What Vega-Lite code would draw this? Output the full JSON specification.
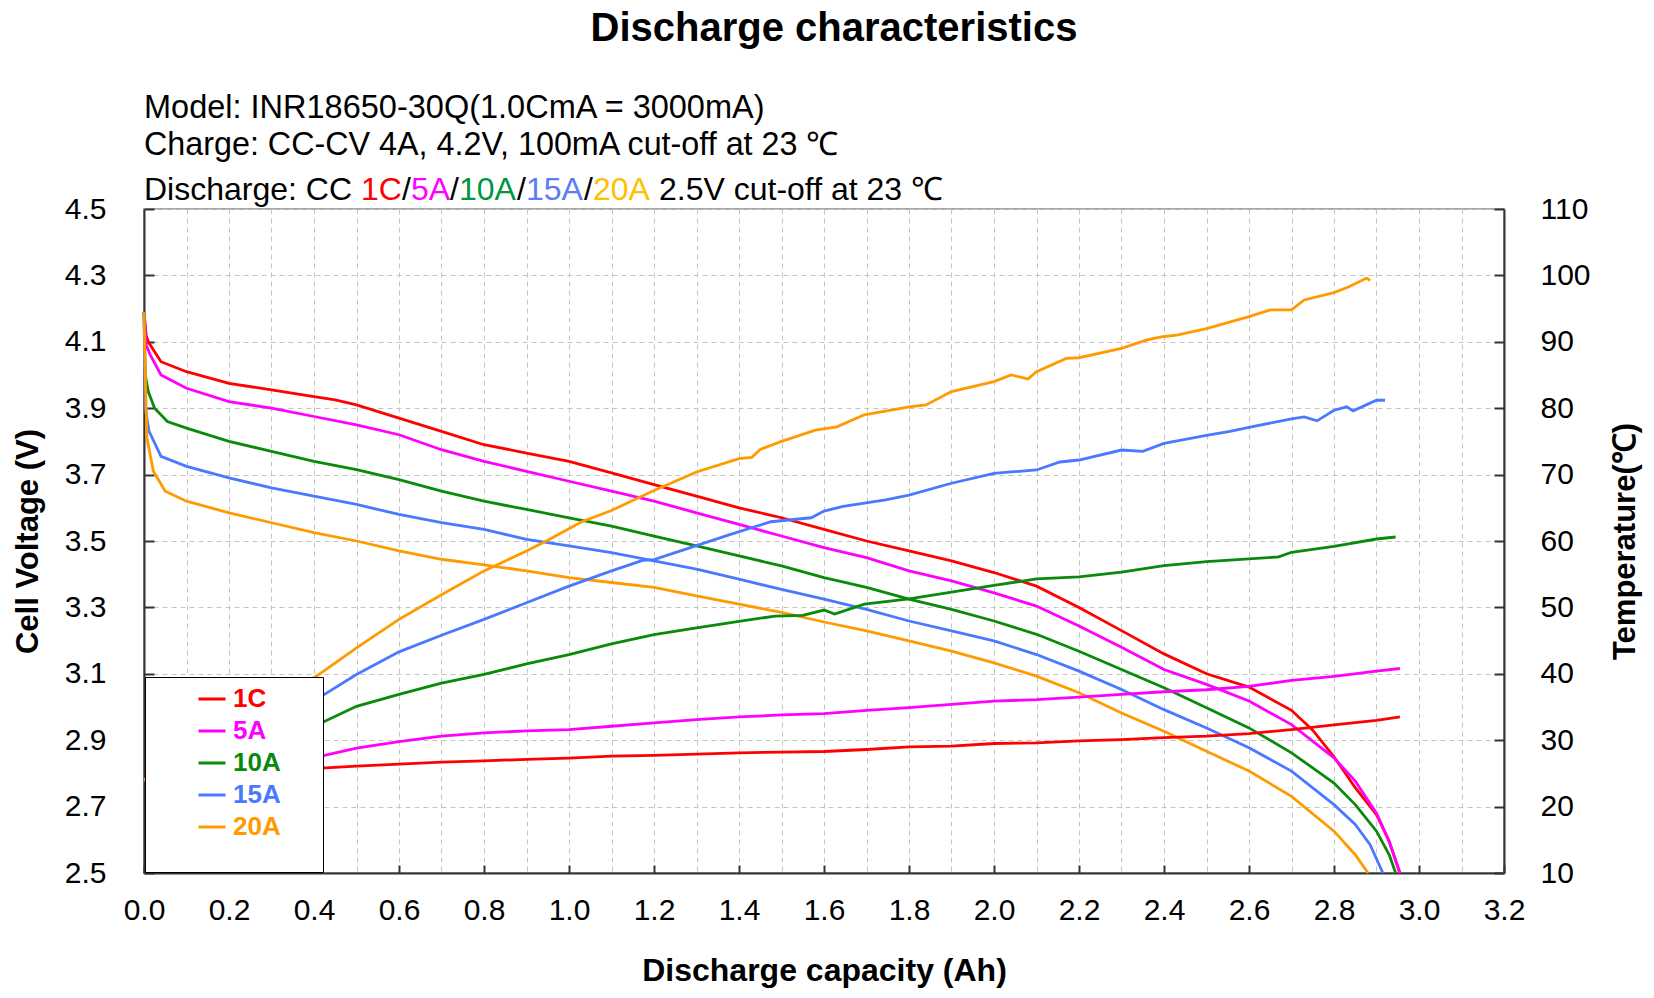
{
  "$schema": "https://vega.github.io/schema/vega-lite/v6.json",
  "width": 1360,
  "height": 664,
  "autosize": {"type": "none"},
  "padding": {"left": 144, "top": 209, "right": 150, "bottom": 125},
  "background": "white",
  "title": {"text": "Discharge characteristics", "font": "Liberation Sans", "fontSize": 40, "fontWeight": "bold", "color": "#000000", "anchor": "middle", "offset": 43, "dx": 10},
  "config": {
    "view": {"stroke": "#8c8c8c", "strokeWidth": 1.5},
    "axis": {"labelFont": "Liberation Sans", "labelFontSize": 30, "labelColor": "#000000", "titleFont": "Liberation Sans", "titleFontSize": 31, "titleFontWeight": "bold", "titleColor": "#000000", "domainColor": "#333333", "domainWidth": 2, "tickColor": "#333333", "tickWidth": 2, "gridColor": "#c4c4c4", "gridDash": [5, 4], "gridWidth": 1, "labelFlush": false, "labelOverlap": false}
  },
  "datasets": {
    "voltage": [
      {"series":"1C","cap":0,"volt":4.19},{"series":"1C","cap":0.005,"volt":4.12},{"series":"1C","cap":0.01,"volt":4.10},{"series":"1C","cap":0.04,"volt":4.04},{"series":"1C","cap":0.1,"volt":4.01},{"series":"1C","cap":0.2,"volt":3.975},{"series":"1C","cap":0.3,"volt":3.955},{"series":"1C","cap":0.4,"volt":3.935},{"series":"1C","cap":0.45,"volt":3.925},{"series":"1C","cap":0.5,"volt":3.91},{"series":"1C","cap":0.6,"volt":3.87},{"series":"1C","cap":0.7,"volt":3.83},{"series":"1C","cap":0.8,"volt":3.79},{"series":"1C","cap":0.9,"volt":3.765},{"series":"1C","cap":1.0,"volt":3.74},{"series":"1C","cap":1.1,"volt":3.705},{"series":"1C","cap":1.2,"volt":3.67},{"series":"1C","cap":1.3,"volt":3.635},{"series":"1C","cap":1.4,"volt":3.6},{"series":"1C","cap":1.5,"volt":3.57},{"series":"1C","cap":1.6,"volt":3.535},{"series":"1C","cap":1.7,"volt":3.5},{"series":"1C","cap":1.8,"volt":3.47},{"series":"1C","cap":1.9,"volt":3.44},{"series":"1C","cap":2.0,"volt":3.405},{"series":"1C","cap":2.1,"volt":3.364},{"series":"1C","cap":2.2,"volt":3.3},{"series":"1C","cap":2.3,"volt":3.23},{"series":"1C","cap":2.4,"volt":3.16},{"series":"1C","cap":2.5,"volt":3.1},{"series":"1C","cap":2.6,"volt":3.06},{"series":"1C","cap":2.7,"volt":2.99},{"series":"1C","cap":2.75,"volt":2.93},{"series":"1C","cap":2.8,"volt":2.85},{"series":"1C","cap":2.85,"volt":2.757},{"series":"1C","cap":2.9,"volt":2.676},{"series":"1C","cap":2.93,"volt":2.595},{"series":"1C","cap":2.955,"volt":2.5},
      {"series":"5A","cap":0,"volt":4.19},{"series":"5A","cap":0.005,"volt":4.09},{"series":"5A","cap":0.015,"volt":4.06},{"series":"5A","cap":0.04,"volt":4.0},{"series":"5A","cap":0.1,"volt":3.96},{"series":"5A","cap":0.2,"volt":3.92},{"series":"5A","cap":0.3,"volt":3.9},{"series":"5A","cap":0.4,"volt":3.875},{"series":"5A","cap":0.5,"volt":3.85},{"series":"5A","cap":0.6,"volt":3.82},{"series":"5A","cap":0.7,"volt":3.775},{"series":"5A","cap":0.8,"volt":3.74},{"series":"5A","cap":0.9,"volt":3.71},{"series":"5A","cap":1.0,"volt":3.68},{"series":"5A","cap":1.1,"volt":3.65},{"series":"5A","cap":1.2,"volt":3.62},{"series":"5A","cap":1.3,"volt":3.585},{"series":"5A","cap":1.4,"volt":3.55},{"series":"5A","cap":1.5,"volt":3.515},{"series":"5A","cap":1.6,"volt":3.48},{"series":"5A","cap":1.7,"volt":3.45},{"series":"5A","cap":1.8,"volt":3.41},{"series":"5A","cap":1.9,"volt":3.38},{"series":"5A","cap":2.0,"volt":3.344},{"series":"5A","cap":2.1,"volt":3.304},{"series":"5A","cap":2.2,"volt":3.244},{"series":"5A","cap":2.3,"volt":3.18},{"series":"5A","cap":2.4,"volt":3.113},{"series":"5A","cap":2.5,"volt":3.068},{"series":"5A","cap":2.6,"volt":3.018},{"series":"5A","cap":2.7,"volt":2.947},{"series":"5A","cap":2.8,"volt":2.847},{"series":"5A","cap":2.85,"volt":2.777},{"series":"5A","cap":2.9,"volt":2.68},{"series":"5A","cap":2.93,"volt":2.595},{"series":"5A","cap":2.955,"volt":2.5},
      {"series":"10A","cap":0,"volt":4.19},{"series":"10A","cap":0.003,"volt":4.0},{"series":"10A","cap":0.01,"volt":3.95},{"series":"10A","cap":0.025,"volt":3.9},{"series":"10A","cap":0.055,"volt":3.86},{"series":"10A","cap":0.1,"volt":3.84},{"series":"10A","cap":0.2,"volt":3.8},{"series":"10A","cap":0.3,"volt":3.77},{"series":"10A","cap":0.4,"volt":3.74},{"series":"10A","cap":0.5,"volt":3.715},{"series":"10A","cap":0.6,"volt":3.685},{"series":"10A","cap":0.7,"volt":3.65},{"series":"10A","cap":0.8,"volt":3.62},{"series":"10A","cap":0.9,"volt":3.595},{"series":"10A","cap":1.0,"volt":3.57},{"series":"10A","cap":1.1,"volt":3.545},{"series":"10A","cap":1.2,"volt":3.515},{"series":"10A","cap":1.3,"volt":3.485},{"series":"10A","cap":1.4,"volt":3.455},{"series":"10A","cap":1.5,"volt":3.425},{"series":"10A","cap":1.6,"volt":3.39},{"series":"10A","cap":1.7,"volt":3.36},{"series":"10A","cap":1.8,"volt":3.325},{"series":"10A","cap":1.9,"volt":3.294},{"series":"10A","cap":2.0,"volt":3.259},{"series":"10A","cap":2.1,"volt":3.219},{"series":"10A","cap":2.2,"volt":3.168},{"series":"10A","cap":2.3,"volt":3.113},{"series":"10A","cap":2.4,"volt":3.058},{"series":"10A","cap":2.5,"volt":2.998},{"series":"10A","cap":2.6,"volt":2.937},{"series":"10A","cap":2.7,"volt":2.862},{"series":"10A","cap":2.8,"volt":2.771},{"series":"10A","cap":2.85,"volt":2.706},{"series":"10A","cap":2.9,"volt":2.626},{"series":"10A","cap":2.93,"volt":2.555},{"series":"10A","cap":2.945,"volt":2.5},
      {"series":"15A","cap":0,"volt":4.19},{"series":"15A","cap":0.003,"volt":3.9},{"series":"15A","cap":0.012,"volt":3.83},{"series":"15A","cap":0.04,"volt":3.755},{"series":"15A","cap":0.1,"volt":3.725},{"series":"15A","cap":0.2,"volt":3.69},{"series":"15A","cap":0.3,"volt":3.66},{"series":"15A","cap":0.4,"volt":3.635},{"series":"15A","cap":0.5,"volt":3.61},{"series":"15A","cap":0.6,"volt":3.58},{"series":"15A","cap":0.7,"volt":3.555},{"series":"15A","cap":0.8,"volt":3.535},{"series":"15A","cap":0.9,"volt":3.505},{"series":"15A","cap":1.0,"volt":3.485},{"series":"15A","cap":1.1,"volt":3.465},{"series":"15A","cap":1.2,"volt":3.44},{"series":"15A","cap":1.3,"volt":3.415},{"series":"15A","cap":1.4,"volt":3.385},{"series":"15A","cap":1.5,"volt":3.354},{"series":"15A","cap":1.6,"volt":3.325},{"series":"15A","cap":1.7,"volt":3.294},{"series":"15A","cap":1.8,"volt":3.259},{"series":"15A","cap":1.9,"volt":3.229},{"series":"15A","cap":2.0,"volt":3.199},{"series":"15A","cap":2.1,"volt":3.158},{"series":"15A","cap":2.2,"volt":3.108},{"series":"15A","cap":2.3,"volt":3.053},{"series":"15A","cap":2.4,"volt":2.992},{"series":"15A","cap":2.5,"volt":2.937},{"series":"15A","cap":2.6,"volt":2.877},{"series":"15A","cap":2.7,"volt":2.807},{"series":"15A","cap":2.8,"volt":2.706},{"series":"15A","cap":2.85,"volt":2.646},{"series":"15A","cap":2.885,"volt":2.585},{"series":"15A","cap":2.915,"volt":2.5},
      {"series":"20A","cap":0,"volt":4.19},{"series":"20A","cap":0.003,"volt":4.0},{"series":"20A","cap":0.007,"volt":3.81},{"series":"20A","cap":0.022,"volt":3.71},{"series":"20A","cap":0.05,"volt":3.65},{"series":"20A","cap":0.1,"volt":3.62},{"series":"20A","cap":0.2,"volt":3.585},{"series":"20A","cap":0.3,"volt":3.555},{"series":"20A","cap":0.4,"volt":3.525},{"series":"20A","cap":0.5,"volt":3.5},{"series":"20A","cap":0.6,"volt":3.47},{"series":"20A","cap":0.7,"volt":3.445},{"series":"20A","cap":0.8,"volt":3.428},{"series":"20A","cap":0.9,"volt":3.41},{"series":"20A","cap":1.0,"volt":3.39},{"series":"20A","cap":1.1,"volt":3.375},{"series":"20A","cap":1.2,"volt":3.36},{"series":"20A","cap":1.3,"volt":3.335},{"series":"20A","cap":1.4,"volt":3.31},{"series":"20A","cap":1.5,"volt":3.285},{"series":"20A","cap":1.6,"volt":3.256},{"series":"20A","cap":1.7,"volt":3.229},{"series":"20A","cap":1.8,"volt":3.199},{"series":"20A","cap":1.9,"volt":3.168},{"series":"20A","cap":2.0,"volt":3.133},{"series":"20A","cap":2.1,"volt":3.093},{"series":"20A","cap":2.2,"volt":3.043},{"series":"20A","cap":2.3,"volt":2.982},{"series":"20A","cap":2.4,"volt":2.927},{"series":"20A","cap":2.5,"volt":2.867},{"series":"20A","cap":2.6,"volt":2.807},{"series":"20A","cap":2.7,"volt":2.731},{"series":"20A","cap":2.8,"volt":2.626},{"series":"20A","cap":2.85,"volt":2.555},{"series":"20A","cap":2.88,"volt":2.5}
    ],
    "temperature": [
      {"series":"1C","cap":0,"temp":24},{"series":"1C","cap":0.417,"temp":25.8},{"series":"1C","cap":0.5,"temp":26.1},{"series":"1C","cap":0.6,"temp":26.4},{"series":"1C","cap":0.7,"temp":26.7},{"series":"1C","cap":0.8,"temp":26.9},{"series":"1C","cap":0.9,"temp":27.1},{"series":"1C","cap":1.0,"temp":27.3},{"series":"1C","cap":1.1,"temp":27.6},{"series":"1C","cap":1.2,"temp":27.7},{"series":"1C","cap":1.3,"temp":27.9},{"series":"1C","cap":1.4,"temp":28.1},{"series":"1C","cap":1.5,"temp":28.2},{"series":"1C","cap":1.6,"temp":28.3},{"series":"1C","cap":1.7,"temp":28.6},{"series":"1C","cap":1.8,"temp":29.0},{"series":"1C","cap":1.9,"temp":29.1},{"series":"1C","cap":2.0,"temp":29.5},{"series":"1C","cap":2.1,"temp":29.6},{"series":"1C","cap":2.2,"temp":29.9},{"series":"1C","cap":2.3,"temp":30.1},{"series":"1C","cap":2.4,"temp":30.4},{"series":"1C","cap":2.5,"temp":30.6},{"series":"1C","cap":2.6,"temp":31.0},{"series":"1C","cap":2.7,"temp":31.6},{"series":"1C","cap":2.8,"temp":32.3},{"series":"1C","cap":2.9,"temp":33.0},{"series":"1C","cap":2.955,"temp":33.5},
      {"series":"5A","cap":0,"temp":24},{"series":"5A","cap":0.417,"temp":27.6},{"series":"5A","cap":0.5,"temp":28.8},{"series":"5A","cap":0.6,"temp":29.8},{"series":"5A","cap":0.7,"temp":30.6},{"series":"5A","cap":0.8,"temp":31.1},{"series":"5A","cap":0.9,"temp":31.4},{"series":"5A","cap":1.0,"temp":31.6},{"series":"5A","cap":1.1,"temp":32.1},{"series":"5A","cap":1.2,"temp":32.6},{"series":"5A","cap":1.3,"temp":33.1},{"series":"5A","cap":1.4,"temp":33.5},{"series":"5A","cap":1.5,"temp":33.8},{"series":"5A","cap":1.6,"temp":34.0},{"series":"5A","cap":1.7,"temp":34.5},{"series":"5A","cap":1.8,"temp":34.9},{"series":"5A","cap":1.9,"temp":35.4},{"series":"5A","cap":2.0,"temp":35.9},{"series":"5A","cap":2.1,"temp":36.1},{"series":"5A","cap":2.2,"temp":36.5},{"series":"5A","cap":2.3,"temp":36.9},{"series":"5A","cap":2.4,"temp":37.3},{"series":"5A","cap":2.5,"temp":37.6},{"series":"5A","cap":2.6,"temp":38.1},{"series":"5A","cap":2.7,"temp":39.0},{"series":"5A","cap":2.8,"temp":39.6},{"series":"5A","cap":2.9,"temp":40.4},{"series":"5A","cap":2.955,"temp":40.8},
      {"series":"10A","cap":0,"temp":24},{"series":"10A","cap":0.417,"temp":32.6},{"series":"10A","cap":0.5,"temp":35.1},{"series":"10A","cap":0.6,"temp":36.9},{"series":"10A","cap":0.7,"temp":38.6},{"series":"10A","cap":0.8,"temp":39.9},{"series":"10A","cap":0.9,"temp":41.5},{"series":"10A","cap":1.0,"temp":42.9},{"series":"10A","cap":1.1,"temp":44.5},{"series":"10A","cap":1.2,"temp":45.9},{"series":"10A","cap":1.3,"temp":46.9},{"series":"10A","cap":1.4,"temp":47.9},{"series":"10A","cap":1.485,"temp":48.7},{"series":"10A","cap":1.55,"temp":48.8},{"series":"10A","cap":1.6,"temp":49.6},{"series":"10A","cap":1.625,"temp":49.0},{"series":"10A","cap":1.695,"temp":50.5},{"series":"10A","cap":1.8,"temp":51.3},{"series":"10A","cap":1.9,"temp":52.3},{"series":"10A","cap":2.0,"temp":53.3},{"series":"10A","cap":2.1,"temp":54.3},{"series":"10A","cap":2.2,"temp":54.6},{"series":"10A","cap":2.3,"temp":55.3},{"series":"10A","cap":2.4,"temp":56.3},{"series":"10A","cap":2.5,"temp":56.9},{"series":"10A","cap":2.6,"temp":57.3},{"series":"10A","cap":2.67,"temp":57.6},{"series":"10A","cap":2.7,"temp":58.3},{"series":"10A","cap":2.8,"temp":59.2},{"series":"10A","cap":2.9,"temp":60.3},{"series":"10A","cap":2.945,"temp":60.6},
      {"series":"15A","cap":0,"temp":24},{"series":"15A","cap":0.417,"temp":36.6},{"series":"15A","cap":0.5,"temp":39.9},{"series":"15A","cap":0.6,"temp":43.3},{"series":"15A","cap":0.7,"temp":45.8},{"series":"15A","cap":0.8,"temp":48.2},{"series":"15A","cap":0.9,"temp":50.7},{"series":"15A","cap":1.0,"temp":53.2},{"series":"15A","cap":1.1,"temp":55.5},{"series":"15A","cap":1.175,"temp":57.1},{"series":"15A","cap":1.2,"temp":57.2},{"series":"15A","cap":1.3,"temp":59.3},{"series":"15A","cap":1.38,"temp":61.0},{"series":"15A","cap":1.475,"temp":62.9},{"series":"15A","cap":1.57,"temp":63.5},{"series":"15A","cap":1.6,"temp":64.5},{"series":"15A","cap":1.645,"temp":65.2},{"series":"15A","cap":1.745,"temp":66.2},{"series":"15A","cap":1.8,"temp":66.9},{"series":"15A","cap":1.9,"temp":68.7},{"series":"15A","cap":2.0,"temp":70.2},{"series":"15A","cap":2.04,"temp":70.4},{"series":"15A","cap":2.1,"temp":70.7},{"series":"15A","cap":2.155,"temp":71.9},{"series":"15A","cap":2.2,"temp":72.2},{"series":"15A","cap":2.3,"temp":73.7},{"series":"15A","cap":2.35,"temp":73.5},{"series":"15A","cap":2.4,"temp":74.7},{"series":"15A","cap":2.5,"temp":75.9},{"series":"15A","cap":2.555,"temp":76.5},{"series":"15A","cap":2.6,"temp":77.1},{"series":"15A","cap":2.7,"temp":78.4},{"series":"15A","cap":2.73,"temp":78.7},{"series":"15A","cap":2.76,"temp":78.1},{"series":"15A","cap":2.8,"temp":79.7},{"series":"15A","cap":2.83,"temp":80.2},{"series":"15A","cap":2.845,"temp":79.6},{"series":"15A","cap":2.9,"temp":81.2},{"series":"15A","cap":2.92,"temp":81.2},
      {"series":"20A","cap":0,"temp":24},{"series":"20A","cap":0.407,"temp":39.7},{"series":"20A","cap":0.5,"temp":43.9},{"series":"20A","cap":0.6,"temp":48.2},{"series":"20A","cap":0.7,"temp":51.9},{"series":"20A","cap":0.8,"temp":55.5},{"series":"20A","cap":0.9,"temp":58.5},{"series":"20A","cap":0.95,"temp":60.1},{"series":"20A","cap":1.03,"temp":62.9},{"series":"20A","cap":1.1,"temp":64.6},{"series":"20A","cap":1.2,"temp":67.6},{"series":"20A","cap":1.3,"temp":70.4},{"series":"20A","cap":1.4,"temp":72.4},{"series":"20A","cap":1.43,"temp":72.6},{"series":"20A","cap":1.45,"temp":73.8},{"series":"20A","cap":1.5,"temp":75.0},{"series":"20A","cap":1.58,"temp":76.7},{"series":"20A","cap":1.63,"temp":77.2},{"series":"20A","cap":1.695,"temp":79.0},{"series":"20A","cap":1.8,"temp":80.2},{"series":"20A","cap":1.84,"temp":80.5},{"series":"20A","cap":1.9,"temp":82.5},{"series":"20A","cap":2.0,"temp":84.0},{"series":"20A","cap":2.04,"temp":85.0},{"series":"20A","cap":2.08,"temp":84.4},{"series":"20A","cap":2.1,"temp":85.5},{"series":"20A","cap":2.17,"temp":87.5},{"series":"20A","cap":2.2,"temp":87.6},{"series":"20A","cap":2.3,"temp":89.0},{"series":"20A","cap":2.36,"temp":90.3},{"series":"20A","cap":2.4,"temp":90.8},{"series":"20A","cap":2.43,"temp":91.0},{"series":"20A","cap":2.5,"temp":92.0},{"series":"20A","cap":2.6,"temp":93.8},{"series":"20A","cap":2.65,"temp":94.8},{"series":"20A","cap":2.7,"temp":94.8},{"series":"20A","cap":2.73,"temp":96.3},{"series":"20A","cap":2.8,"temp":97.4},{"series":"20A","cap":2.835,"temp":98.3},{"series":"20A","cap":2.877,"temp":99.6},{"series":"20A","cap":2.885,"temp":99.2}
    ]
  },
  "layer": [
    {
      "layer": [
        {
          "data": {"name": "voltage"},
          "mark": {"type": "line", "strokeWidth": 2.8},
          "encoding": {
            "x": {"field": "cap", "type": "quantitative", "scale": {"domain": [0, 3.2], "nice": false, "zero": false},
              "axis": {"values": [0,0.1,0.2,0.3,0.4,0.5,0.6,0.7,0.8,0.9,1,1.1,1.2,1.3,1.4,1.5,1.6,1.7,1.8,1.9,2,2.1,2.2,2.3,2.4,2.5,2.6,2.7,2.8,2.9,3,3.1,3.2],
                "labelExpr": "round(datum.value*10)%2==0 ? format(datum.value, '.1f') : ''",
                "tickOpacity": {"condition": {"test": "round(datum.value*10)%2==0", "value": 1}, "value": 0},
                "tickSize": -8, "labelPadding": 30, "grid": true, "title": "Discharge capacity (Ah)", "titleFontSize": 32, "titlePadding": 30}},
            "y": {"field": "volt", "type": "quantitative", "scale": {"domain": [2.5, 4.5], "nice": false, "zero": false},
              "axis": {"values": [2.5,2.7,2.9,3.1,3.3,3.5,3.7,3.9,4.1,4.3,4.5], "format": ".1f", "tickSize": -10, "labelPadding": 48, "grid": true, "title": "Cell Voltage (V)", "titlePadding": 20}},
            "color": {"field": "series", "type": "nominal",
              "scale": {"domain": ["1C","5A","10A","15A","20A"], "range": ["#FF0000","#FF00FF","#0A8A0A","#4A78FF","#FF9A00"]},
              "legend": {"orient": "none", "legendX": 1, "legendY": 468, "direction": "vertical",
                "title": ["\u00a0","\u00a0","\u00a0","\u00a0","\u00a0","\u00a0","\u00a0"],
                "titleOrient": "right", "titleAnchor": "start", "titleFontSize": 10, "titleLineHeight": 28.5, "titlePadding": 35,
                "fillColor": "white", "strokeColor": "#000000", "padding": 7,
                "symbolType": "stroke", "symbolSize": 729, "symbolStrokeWidth": 3, "symbolOffset": 45,
                "labelFont": "Liberation Sans", "labelFontWeight": "bold", "labelFontSize": 26, "labelOffset": 6, "rowPadding": 4,
                "encode": {"labels": {"update": {"fill": {"scale": "color", "field": "value"}}}}}}
          }
        },
        {"data": {"values": [{}]}, "mark": {"type": "text", "text": "Model: INR18650-30Q(1.0CmA = 3000mA)", "align": "left", "baseline": "middle", "font": "Liberation Sans", "fontSize": 32.5, "color": "#000000"},
          "encoding": {"x": {"datum": 0, "type": "quantitative"}, "y": {"datum": 4.804, "type": "quantitative"}}},
        {"data": {"values": [{}]}, "mark": {"type": "text", "text": "Charge: CC-CV 4A, 4.2V, 100mA cut-off at 23 ℃", "align": "left", "baseline": "middle", "font": "Liberation Sans", "fontSize": 32.3, "color": "#000000"},
          "encoding": {"x": {"datum": 0, "type": "quantitative"}, "y": {"datum": 4.693, "type": "quantitative"}}},
        {"data": {"values": [{}]}, "mark": {"type": "text", "text": "Discharge: CC", "align": "left", "baseline": "middle", "font": "Liberation Sans", "fontSize": 32, "color": "#000000"},
          "encoding": {"x": {"datum": 0, "type": "quantitative"}, "y": {"datum": 4.558, "type": "quantitative"}}},
        {"data": {"values": [{}]}, "mark": {"type": "text", "text": "1C", "dx": 217, "align": "left", "baseline": "middle", "font": "Liberation Sans", "fontSize": 32, "color": "#FF0000"},
          "encoding": {"x": {"datum": 0, "type": "quantitative"}, "y": {"datum": 4.558, "type": "quantitative"}}},
        {"data": {"values": [{}]}, "mark": {"type": "text", "text": "/", "dx": 258, "align": "left", "baseline": "middle", "font": "Liberation Sans", "fontSize": 32, "color": "#000000"},
          "encoding": {"x": {"datum": 0, "type": "quantitative"}, "y": {"datum": 4.558, "type": "quantitative"}}},
        {"data": {"values": [{}]}, "mark": {"type": "text", "text": "5A", "dx": 267, "align": "left", "baseline": "middle", "font": "Liberation Sans", "fontSize": 32, "color": "#FF00FF"},
          "encoding": {"x": {"datum": 0, "type": "quantitative"}, "y": {"datum": 4.558, "type": "quantitative"}}},
        {"data": {"values": [{}]}, "mark": {"type": "text", "text": "/", "dx": 306, "align": "left", "baseline": "middle", "font": "Liberation Sans", "fontSize": 32, "color": "#000000"},
          "encoding": {"x": {"datum": 0, "type": "quantitative"}, "y": {"datum": 4.558, "type": "quantitative"}}},
        {"data": {"values": [{}]}, "mark": {"type": "text", "text": "10A", "dx": 315, "align": "left", "baseline": "middle", "font": "Liberation Sans", "fontSize": 32, "color": "#009640"},
          "encoding": {"x": {"datum": 0, "type": "quantitative"}, "y": {"datum": 4.558, "type": "quantitative"}}},
        {"data": {"values": [{}]}, "mark": {"type": "text", "text": "/", "dx": 373, "align": "left", "baseline": "middle", "font": "Liberation Sans", "fontSize": 32, "color": "#000000"},
          "encoding": {"x": {"datum": 0, "type": "quantitative"}, "y": {"datum": 4.558, "type": "quantitative"}}},
        {"data": {"values": [{}]}, "mark": {"type": "text", "text": "15A", "dx": 382, "align": "left", "baseline": "middle", "font": "Liberation Sans", "fontSize": 32, "color": "#5B7CF5"},
          "encoding": {"x": {"datum": 0, "type": "quantitative"}, "y": {"datum": 4.558, "type": "quantitative"}}},
        {"data": {"values": [{}]}, "mark": {"type": "text", "text": "/", "dx": 440, "align": "left", "baseline": "middle", "font": "Liberation Sans", "fontSize": 32, "color": "#000000"},
          "encoding": {"x": {"datum": 0, "type": "quantitative"}, "y": {"datum": 4.558, "type": "quantitative"}}},
        {"data": {"values": [{}]}, "mark": {"type": "text", "text": "20A", "dx": 449, "align": "left", "baseline": "middle", "font": "Liberation Sans", "fontSize": 32, "color": "#FFC000"},
          "encoding": {"x": {"datum": 0, "type": "quantitative"}, "y": {"datum": 4.558, "type": "quantitative"}}},
        {"data": {"values": [{}]}, "mark": {"type": "text", "text": "2.5V cut-off at 23 ℃", "dx": 515, "align": "left", "baseline": "middle", "font": "Liberation Sans", "fontSize": 32, "color": "#000000"},
          "encoding": {"x": {"datum": 0, "type": "quantitative"}, "y": {"datum": 4.558, "type": "quantitative"}}}
      ]
    },
    {
      "data": {"name": "temperature"},
      "mark": {"type": "line", "strokeWidth": 2.8},
      "encoding": {
        "x": {"field": "cap", "type": "quantitative"},
        "y": {"field": "temp", "type": "quantitative", "scale": {"domain": [10, 110], "nice": false, "zero": false},
          "axis": {"orient": "right", "values": [10,20,30,40,50,60,70,80,90,100,110], "tickSize": -10, "labelPadding": 46, "grid": false, "title": "Temperature(℃)", "titleAngle": -90, "titleBaseline": "top", "titlePadding": 20}},
        "color": {"field": "series", "type": "nominal", "legend": null}
      }
    }
  ],
  "resolve": {"scale": {"y": "independent"}}
}
